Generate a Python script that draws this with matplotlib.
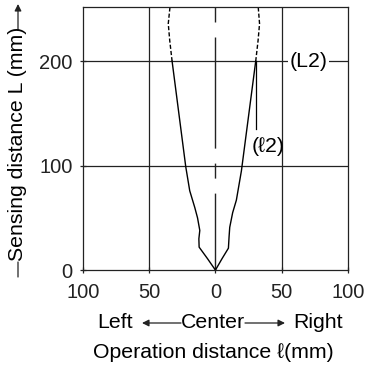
import numpy as np
import matplotlib.pyplot as plt
from matplotlib.patches import FancyArrowPatch

plt.rcParams['font.family'] = ['Liberation Sans', 'DejaVu Sans']

# solid part of the detection area (up to L2 = 200 mm)
right_x = [0, 5, 9.8, 10.3, 10.8, 13, 15.8, 19.6, 30.4]
right_L = [0, 11, 21, 32, 41, 55, 67, 95, 200]
left_x = [0, -6, -12.3, -12.5, -11.8, -13.5, -15.6, -19.4, -22.4, -32.7]
left_L = [0, 11, 22, 30, 38, 50, 60, 76, 99, 200]
# dashed part above L2
right_dash_x = [30.4, 32.2, 33.3, 32.3]
right_dash_L = [200, 220, 236, 252]
left_dash_x = [-32.7, -34.5, -35.6, -34.3]
left_dash_L = [200, 220, 236, 252]

xticks = [-100, -50, 0, 50, 100]
xtick_labels = ['100', '50', '0', '50', '100']
yticks = [0, 100, 200]

fig = plt.figure(figsize=(3.67, 3.68), dpi=100)
ax = fig.add_axes([0.226, 0.266, 0.722, 0.715])

lc = '#222222'
fs = 15.3
for v in [-50, 50]:
    ax.axvline(v, color=lc, lw=0.9)
for h in [100, 200]:
    ax.axhline(h, color=lc, lw=0.9)
# center line (long-short dash)
ax.plot([0, 0], [252, 0], color=lc, lw=1.0, dashes=[10.8, 10.8, 80, 10.8])

ax.plot(right_x, right_L, color='black', lw=1.0)
ax.plot(left_x, left_L, color='black', lw=1.0)
ax.plot(right_dash_x, right_dash_L, color='black', lw=1.0, dashes=[3, 1.5])
ax.plot(left_dash_x, left_dash_L, color='black', lw=1.0, dashes=[3, 1.5])

# (l2) marker line
ax.plot([30.4, 30.4], [200, 135], color='black', lw=0.9)
ax.text(39.5, 118, '(ℓ2)', fontsize=fs, ha='center', va='center')
ax.text(70, 200, '(L2)', fontsize=fs, ha='center', va='center',
        bbox=dict(facecolor='white', edgecolor='none', pad=1))

ax.set_xlim(-100, 100)
ax.set_ylim(0, 252)
ax.set_xticks(xticks)
ax.set_xticklabels(xtick_labels)
ax.set_yticks(yticks)
ax.tick_params(direction='inout', length=5, width=0.9, labelsize=14.5, colors=lc)
ax.tick_params(axis='x', pad=7)
ax.tick_params(axis='y', pad=5)
for s in ax.spines.values():
    s.set_color(lc)
    s.set_linewidth(0.9)

# bottom captions
cy = 1 - 323 / 368
fig.text(115 / 367, cy, 'Left', fontsize=fs, ha='center', va='center')
fig.text(213 / 367, cy, 'Center', fontsize=fs, ha='center', va='center')
fig.text(318 / 367, cy, 'Right', fontsize=fs, ha='center', va='center')
arrow = dict(arrowstyle='-|>', color=lc, lw=0.9, mutation_scale=10, shrinkA=0, shrinkB=0)
fig.add_artist(FancyArrowPatch((181 / 367, cy), (142 / 367, cy),
                               transform=fig.transFigure, **arrow))
fig.add_artist(FancyArrowPatch((245 / 367, cy), (285 / 367, cy),
                               transform=fig.transFigure, **arrow))
fig.text(213 / 367, 1 - 352 / 368, 'Operation distance ℓ(mm)', fontsize=fs,
         ha='center', va='center')

# y label with arrow
fig.text(18 / 367, 1 - 144 / 368, 'Sensing distance L (mm)', fontsize=fs,
         rotation=90, ha='center', va='center')
fig.add_artist(FancyArrowPatch((18 / 367, 1 - 262 / 368), (18 / 367, 1 - 277 / 368),
                               transform=fig.transFigure, arrowstyle='-',
                               color=lc, lw=0.9, shrinkA=0, shrinkB=0))
fig.add_artist(FancyArrowPatch((18 / 367, 1 - 30 / 368), (18 / 367, 1 - 4 / 368),
                               transform=fig.transFigure, **arrow))

fig.savefig('out.png', dpi=100)
